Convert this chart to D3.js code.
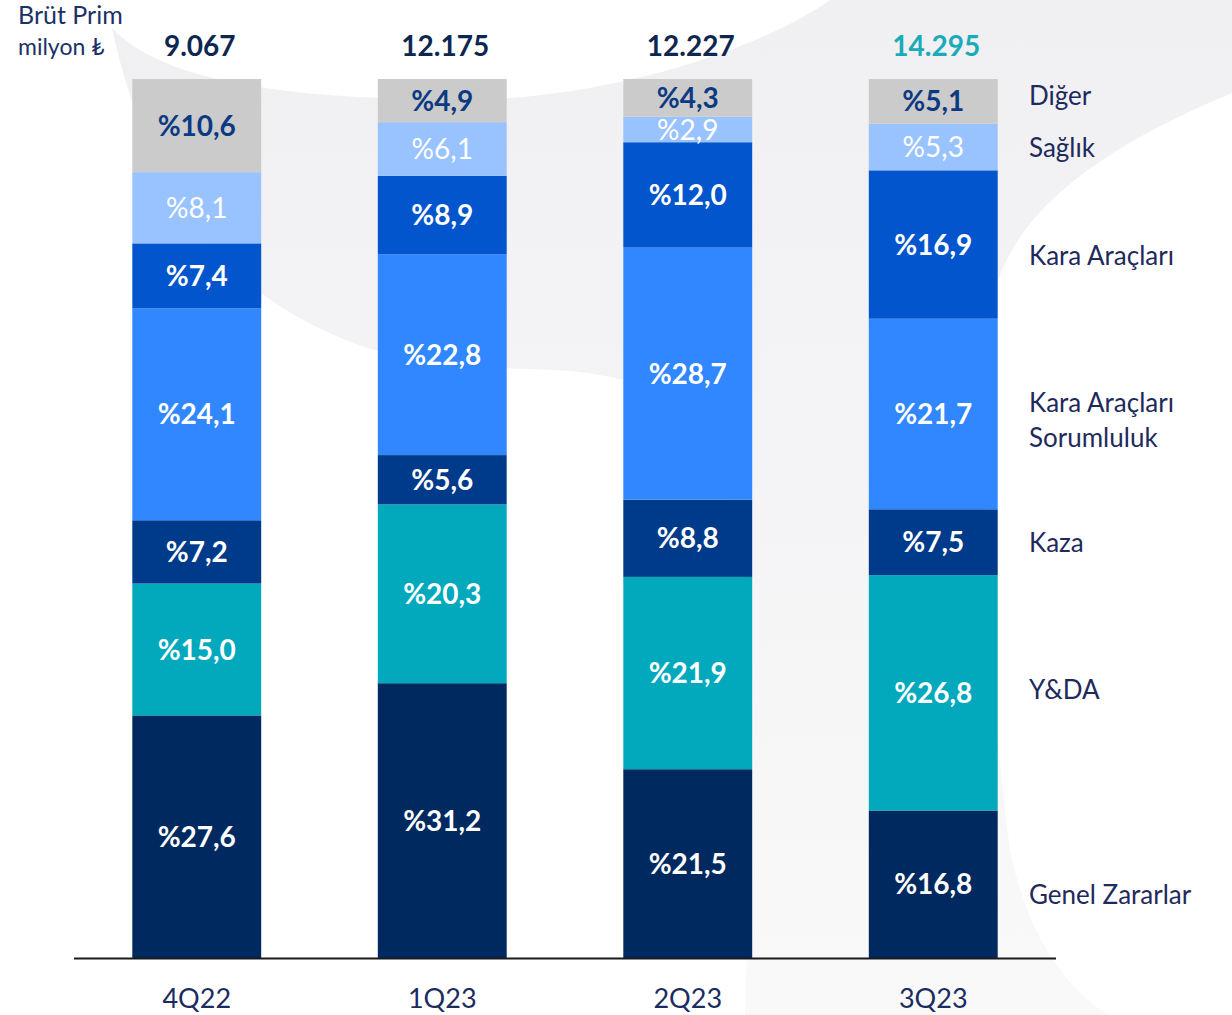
<!DOCTYPE html>
<html>
<head>
<meta charset="utf-8">
<script src="https://cdn.jsdelivr.net/npm/d3@7"></script>
<style>
  html, body { margin: 0; padding: 0; background: #fff; }
  svg { display: block; font-family: Lato, "DejaVu Sans", sans-serif; }
</style>
</head>
<body>
<svg id="chart" width="1232" height="1015"></svg>
<script>
// quarters and gross premium totals (milyon ₺)
const quarters = ['4Q22', '1Q23', '2Q23', '3Q23'];
const totals = ['9.067', '12.175', '12.227', '14.295'];

// segment names, bottom to top
const segments = ['Genel Zararlar', 'Y&DA', 'Kaza', 'Kara Araçları Sorumluluk', 'Kara Araçları', 'Sağlık', 'Diğer'];

// share of each segment (%) per quarter
const genelZararlar = [27.6, 31.2, 21.5, 16.8];
const yda = [15.0, 20.3, 21.9, 26.8];
const kaza = [7.2, 5.6, 8.8, 7.5];
const karaAraclariSorumluluk = [24.1, 22.8, 28.7, 21.7];
const karaAraclari = [7.4, 8.9, 12.0, 16.9];
const saglik = [8.1, 6.1, 2.9, 5.3];
const diger = [10.6, 4.9, 4.3, 5.1];

const seriesValues = [genelZararlar, yda, kaza, karaAraclariSorumluluk, karaAraclari, saglik, diger];

const colors = ['#002960', '#02A9BC', '#003A8A', '#3087FF', '#0255CC', '#99C3FF', '#CBCBCB'];
const labelColors = ['#fff', '#fff', '#fff', '#fff', '#fff', '#fff', '#0B3A82'];
const labelWeights = [700, 700, 700, 700, 700, 400, 700];
// small nudges for the right-hand legend
const legendNudge = [10, -3, 0, 6, 11, 1, -6];

const rows = quarters.map((q, i) => {
  const r = { quarter: q };
  segments.forEach((s, j) => { r[s] = seriesValues[j][i]; });
  return r;
});

const svg = d3.select('#chart');

// faint background swoosh
const defs = svg.append('defs');
const grad = defs.append('linearGradient')
  .attr('id', 'bgGrad')
  .attr('x1', 0).attr('y1', 0).attr('x2', 0).attr('y2', 1);
grad.append('stop').attr('offset', '0%').attr('stop-color', '#f0f0f2');
grad.append('stop').attr('offset', '100%').attr('stop-color', '#f9f9fa');

svg.append('path')
  .attr('d', 'M112,28 C165,85 300,98 450,100 C600,102 760,50 830,0 L1232,0 L1232,93 '
    + 'C1120,140 1020,200 995,290 C970,390 990,700 1010,850 C1030,950 1080,1000 1110,1015 '
    + 'L745,1015 C752,800 762,520 705,430 C650,365 560,370 480,368 C380,365 260,320 190,220 C150,160 125,90 112,28 Z')
  .attr('fill', 'url(#bgGrad)');

const x = d3.scaleBand()
  .domain(quarters)
  .range([74, 1056])
  .paddingInner(0.475)
  .paddingOuter(0.2375);

const y = d3.scaleLinear()
  .domain([0, 1])
  .range([958, 79]);

const stack = d3.stack()
  .keys(segments)
  .offset(d3.stackOffsetExpand);

const stacked = stack(rows);

const layer = svg.append('g')
  .selectAll('g')
  .data(stacked)
  .enter()
  .append('g')
  .attr('fill', (d, i) => colors[i]);

layer.selectAll('rect')
  .data(d => d)
  .enter()
  .append('rect')
  .attr('x', d => x(d.data.quarter))
  .attr('y', d => y(d[1]))
  .attr('width', x.bandwidth())
  .attr('height', d => y(d[0]) - y(d[1]));

// percent labels inside segments
stacked.forEach((s, i) => {
  svg.append('g')
    .selectAll('text')
    .data(s)
    .enter()
    .append('text')
    .attr('x', d => x(d.data.quarter) + x.bandwidth() / 2)
    .attr('y', d => (y(d[0]) + y(d[1])) / 2)
    .attr('dy', '0.36em')
    .attr('text-anchor', 'middle')
    .attr('font-size', 28)
    .attr('font-weight', labelWeights[i])
    .attr('fill', labelColors[i])
    .text(d => '%' + d.data[s.key].toFixed(1).replace('.', ','));
});

// totals above bars
svg.append('g')
  .selectAll('text')
  .data(quarters)
  .enter()
  .append('text')
  .attr('x', d => x(d) + x.bandwidth() / 2 + 3)
  .attr('y', 56)
  .attr('text-anchor', 'middle')
  .attr('font-size', 28)
  .attr('font-weight', 700)
  .attr('fill', (d, i) => (i === quarters.length - 1 ? '#1AABB8' : '#0D2750'))
  .text((d, i) => totals[i]);

// baseline
svg.append('line')
  .attr('x1', 74).attr('x2', 1056)
  .attr('y1', 958.5).attr('y2', 958.5)
  .attr('stroke', '#1a1a1a')
  .attr('stroke-width', 2);

// category axis
const xAxis = svg.append('g')
  .attr('transform', 'translate(0,958)')
  .call(d3.axisBottom(x).tickSize(0).tickPadding(31));
xAxis.select('.domain').remove();
xAxis.selectAll('text')
  .attr('font-family', 'Lato, sans-serif')
  .attr('font-size', 27)
  .attr('fill', '#1B2C5E');

// legend on the right, next to last bar
const last = quarters[quarters.length - 1];
const legend = svg.append('g');
stacked.forEach((s, i) => {
  const d = s.find(e => e.data.quarter === last);
  const cy = (y(d[0]) + y(d[1])) / 2 + legendNudge[i];
  const t = legend.append('text')
    .attr('x', 1029)
    .attr('font-size', 26)
    .attr('fill', '#1F2A5C');
  const lines = s.key === 'Kara Araçları Sorumluluk' ? ['Kara Araçları', 'Sorumluluk'] : [s.key];
  const lh = 35;
  lines.forEach((ln, k) => {
    t.append('tspan')
      .attr('x', 1029)
      .attr('y', cy - (lines.length - 1) * lh / 2 + k * lh)
      .attr('dy', '0.36em')
      .text(ln);
  });
});

// unit title
svg.append('text')
  .attr('x', 18).attr('y', 24)
  .attr('font-size', 25)
  .attr('fill', '#1B3266')
  .text('Brüt Prim');
svg.append('text')
  .attr('x', 18).attr('y', 55)
  .attr('font-size', 23)
  .attr('fill', '#1B3266')
  .text('milyon ₺');
</script>
</body>
</html>
